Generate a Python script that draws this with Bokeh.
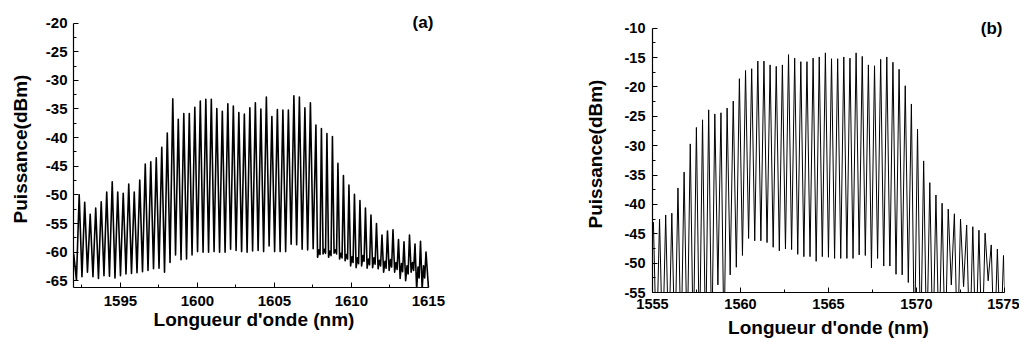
from bokeh.plotting import figure
from bokeh.layouts import row, column
from bokeh.models import FixedTicker, Label, Spacer
from bokeh.embed import file_html
from bokeh.resources import INLINE

# ---------------- panel (a) data ----------------
a_first_peak = 1592.32          # nm, first comb line
a_spacing = 0.3576              # nm between comb lines
a_lead = [-60.3, -64.9]         # level before the first peak
a_peaks = [-50.0, -51.3, -53.4, -52.3, -51.2, -49.5, -47.7, -49.5, -49.7, -48.1,
           -49.5, -47.4, -44.6, -44.2, -43.5, -41.7, -39.2, -33.2, -36.8, -35.8,
           -35.8, -34.7, -33.6, -33.3, -33.3, -34.9, -35.4, -34.1, -34.5, -35.6,
           -35.9, -34.8, -33.9, -35.0, -32.9, -36.3, -35.1, -35.2, -35.2, -32.7,
           -32.9, -34.8, -33.9, -37.8, -38.4, -39.3, -39.8, -44.5, -46.6, -48.3,
           -49.9, -51.0, -52.3, -53.5, -55.0, -57.0, -56.3, -56.1, -57.8, -58.2,
           -57.0, -58.6, -58.1, -60.0]
a_troughs = [-64.3, -63.5, -64.3, -64.6, -64.1, -64.2, -64.5, -64.1, -63.8, -63.7,
             -63.6, -63.4, -63.2, -62.9, -62.8, -63.5, -61.8, -60.5, -61.3, -61.2,
             -60.5, -59.9, -60.0, -60.0, -59.9, -60.0, -60.0, -59.5, -59.7, -59.9,
             -60.0, -59.8, -59.7, -59.9, -58.9, -59.9, -59.9, -59.9, -58.6, -58.7,
             -59.5, -59.6, -59.4, -60.9, -60.3, -60.9, -60.2, -61.2, -61.5, -62.4,
             -62.7, -62.4, -62.8, -62.7, -62.9, -63.5, -63.2, -63.5, -64.6, -65.0,
             -63.5, -66.5, -66.5, -67.0]
a_bumps = [None] * 43 + [-59.6, -59.5, -59.8, -59.6, -60.2, -60.4, -60.8, -61.0, -60.6, -61.2,
                         -61.0, -61.4, -61.6, -61.3, -61.8, -62.0, -62.4, -61.8, -62.6, -62.4, None]
a_troughs2 = [None] * 43 + [-60.4, -60.2, -60.6, -60.3, -61.0, -61.2, -61.8, -62.0, -61.6, -62.2,
                            -62.1, -62.4, -62.8, -62.6, -63.0, -63.4, -63.8, -63.2, -64.5, -64.5, None]
a_xticks = [1595, 1600, 1605, 1610, 1615]
a_yticks = [-65, -60, -55, -50, -45, -40, -35, -30, -25, -20]
a_ytick_labels = ["-65", "-60", "-55", "-50", "-45", "-40", "-35", "-30", "-25", "-20"]

# ---------------- panel (b) data ----------------
b_first_peak = 1555.40
b_spacing = 0.3490
b_lead = [-43.0, -65.0]
b_peaks = [-42.5, -41.8, -41.5, -37.2, -34.5, -29.7, -26.9, -25.6, -23.9, -24.6,
           -24.4, -23.6, -22.4, -18.6, -17.2, -16.9, -15.6, -15.6, -16.25, -16.5,
           -16.25, -14.5, -15.1, -15.7, -15.7, -15.1, -14.9, -14.2, -15.2, -15.2,
           -14.9, -15.1, -14.2, -14.8, -16.25, -16.4, -15.3, -14.9, -15.8, -17.0,
           -19.8, -22.9, -27.2, -32.6, -36.3, -38.4, -39.8, -40.8, -41.6, -42.5,
           -43.5, -43.8, -44.4, -44.9, -46.9, -47.6, -48.7]
b_troughs = [-65.0, -65.0, -65.0, -65.0, -65.0, -65.0, -65.0, -65.0, -65.0, -53.7,
             -65.0, -52.0, -50.7, -48.7, -45.8, -46.2, -46.2, -46.5, -47.3, -47.9,
             -47.6, -47.7, -48.5, -48.9, -48.9, -49.7, -48.9, -49.0, -49.2, -49.2,
             -49.2, -49.2, -48.6, -48.7, -50.8, -49.2, -50.5, -50.5, -51.9, -52.0,
             -53.3, -65.0, -65.0, -65.0, -65.0, -65.0, -65.0, -53.7, -65.0, -54.0,
             -65.0, -65.0, -65.0, -53.0, -65.0, -65.0, -65.0]
b_xticks = [1555, 1560, 1565, 1570, 1575]
b_yticks = [-55, -50, -45, -40, -35, -30, -25, -20, -15, -10]
b_ytick_labels = ["-55", "-50", "-45", "-40", "-35", "-30", "-25", "-20", "-15", "-10"]


def build_trace(first, step, lead, peaks, troughs, bumps=None, troughs2=None):
    xs = [first - step, first - 0.5 * step]
    ys = list(lead)
    for i, pk in enumerate(peaks):
        xp = first + i * step
        xs.append(xp)
        ys.append(pk)
        if bumps is not None and bumps[i] is not None:
            xs += [xp + 0.3 * step, xp + 0.55 * step, xp + 0.75 * step]
            ys += [troughs[i], bumps[i], troughs2[i]]
        else:
            xs.append(xp + 0.5 * step)
            ys.append(troughs[i])
    return xs, ys


def minors(ticks):
    d = ticks[1] - ticks[0]
    return [t - d / 2 for t in ticks] + [ticks[-1] + d / 2]


FONT = "Liberation Sans"


def style(p, xticks, yticks, ylabels, xb, yb, tick_size, xstand, ystand, xlab_stand, ylab_stand):
    p.grid.visible = False
    p.outline_line_color = None
    p.background_fill_color = "white"
    p.border_fill_color = "white"
    p.xaxis.ticker = FixedTicker(ticks=xticks, minor_ticks=minors(xticks))
    p.yaxis.ticker = FixedTicker(ticks=yticks, minor_ticks=minors(yticks))
    p.xaxis.major_label_overrides = {t: str(t) for t in xticks}
    p.yaxis.major_label_overrides = dict(zip(yticks, ylabels))
    p.xaxis.bounds = xb
    p.yaxis.bounds = yb
    for ax in (p.xaxis, p.yaxis):
        ax.axis_line_color = "black"
        ax.axis_line_width = 1.2
        ax.major_tick_in = 5
        ax.major_tick_out = 0
        ax.minor_tick_in = 3
        ax.minor_tick_out = 0
        ax.major_tick_line_color = "black"
        ax.minor_tick_line_color = "black"
        ax.major_label_text_font = FONT
        ax.major_label_text_font_style = "bold"
        ax.major_label_text_font_size = tick_size
        ax.major_label_text_color = "black"
        ax.axis_label_text_font = FONT
        ax.axis_label_text_font_style = "bold"
        ax.axis_label_text_font_size = "19px"
        ax.axis_label_text_color = "black"
    p.xaxis.major_label_standoff = xstand
    p.yaxis.major_label_standoff = ystand
    p.xaxis.axis_label_standoff = xlab_stand
    p.yaxis.axis_label_standoff = ylab_stand
    p.xaxis.axis_label = "Longueur d'onde (nm)"
    p.yaxis.axis_label = "Puissance(dBm)"


# panel (a): frame extended a little above/right of the axes so that "(a)" fits inside it
pa = figure(frame_width=361, frame_height=277, x_range=(1591.95, 1615.4), y_range=(-66.17, -17.8),
            output_backend="svg", toolbar_location=None, title=None,
            min_border_left=73, min_border_right=54, min_border_top=10, min_border_bottom=55)
ax_, ay_ = build_trace(a_first_peak, a_spacing, a_lead, a_peaks, a_troughs, a_bumps, a_troughs2)
pa.line(ax_, ay_, line_color="black", line_width=1.6, line_join="round")
style(pa, a_xticks, a_yticks, a_ytick_labels, (1591.95, 1615), (-66.17, -20), "15px", 8, 6, 0, 12)
pa.add_layout(Label(x=1615, y=-20, x_offset=5, y_offset=1, text="(a)", text_align="right",
                    text_baseline="alphabetic", text_font=FONT, text_font_style="bold",
                    text_font_size="17px", text_color="black"))

pb = figure(frame_width=352, frame_height=277, x_range=(1555, 1575), y_range=(-55, -7.84),
            output_backend="svg", toolbar_location=None, title=None,
            min_border_left=164, min_border_right=15, min_border_top=10, min_border_bottom=50)
bx_, by_ = build_trace(b_first_peak, b_spacing, b_lead, b_peaks, b_troughs)
pb.line(bx_, by_, line_color="black", line_width=1.0)
style(pb, b_xticks, b_yticks, b_ytick_labels, (1555, 1575), (-55, -10), "14.5px", 6, 7, 5, 16)
pb.add_layout(Label(x=1575, y=-10, x_offset=-2, y_offset=0, text="(b)", text_align="right",
                    text_baseline="alphabetic", text_font=FONT, text_font_style="bold",
                    text_font_size="17px", text_color="black"))

layout = row(pa, column(Spacer(width=531, height=5), pb))
open("out.html", "w").write(file_html(layout, INLINE))
